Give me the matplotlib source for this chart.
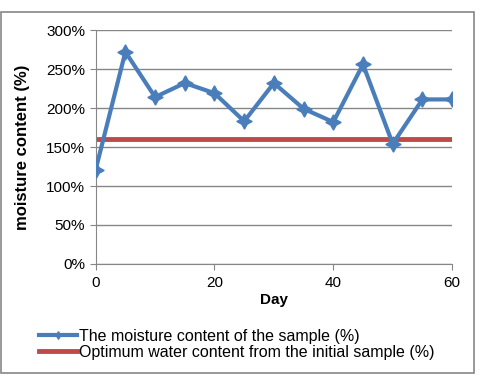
import matplotlib.pyplot as plt
from matplotlib.patches import Rectangle
from matplotlib.ticker import PercentFormatter

days = [0, 5, 10, 15, 20, 25, 30, 35, 40, 45, 50, 55, 60]
moisture = [121, 272, 214, 232, 219, 183, 232, 199, 182, 256, 154, 211, 211]
optimum = 160
yticks = [0, 50, 100, 150, 200, 250, 300]

plt.rcParams["font.family"] = ["Liberation Sans", "DejaVu Sans"]

fig = plt.figure(figsize=(4.82, 3.78), dpi=100)
ax = fig.add_axes([0.1985, 0.3016, 0.7395, 0.619])

ax.plot(days, moisture, color="#4a7ebb", lw=3, marker=(4, 1, 0), ms=11,
        label="The moisture content of the sample (%)", zorder=3)
ax.plot([days[0], days[-1]], [optimum, optimum], color="#be4b48", lw=3.5,
        label="Optimum water content from the initial sample (%)", zorder=2)

ax.set_xlim(0, 60)
ax.set_ylim(0, 300)
ax.set_xticks([0, 20, 40, 60])
ax.set_yticks(yticks)
ax.yaxis.set_major_formatter(PercentFormatter(decimals=0))
ax.grid(axis="y", color="#868686", lw=1)
ax.set_axisbelow(True)
for side in ["top", "right"]:
    ax.spines[side].set_visible(False)
for side in ["left", "bottom"]:
    ax.spines[side].set_color("#868686")
ax.tick_params(colors="#868686", labelcolor="black", labelsize=11, length=4)
ax.tick_params(axis="x", pad=5)

ax.set_xlabel("Day", fontsize=11, fontweight="bold", labelpad=2)
ax.set_ylabel("moisture content (%)", fontsize=12, fontweight="bold", labelpad=12)

ax.legend(loc="upper left", bbox_to_anchor=(-0.178, -0.25), frameon=False,
          fontsize=11.5, handlelength=2.4, handletextpad=0.1, labelspacing=0.05,
          borderaxespad=0, markerscale=0.5)

fig.patches.append(Rectangle((0.003, 0.012), 0.98, 0.955, transform=fig.transFigure,
                             fill=False, edgecolor="#868686", lw=1.2))

fig.savefig("out.png", dpi=100)
